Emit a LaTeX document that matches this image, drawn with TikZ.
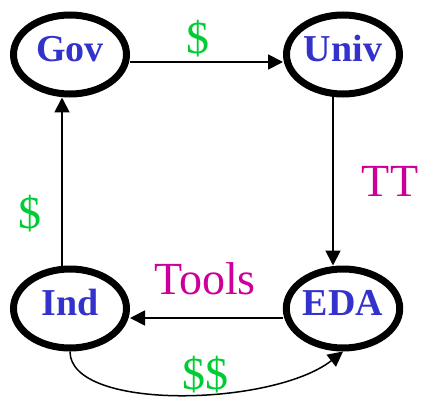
\documentclass[tikz,border=0pt]{standalone}
\usepackage{fontspec}
\setmainfont{Liberation Serif}
\usetikzlibrary{shapes.geometric,arrows.meta}
\definecolor{partyblue}{HTML}{3333CC}
\definecolor{moneygreen}{HTML}{00CC33}
\definecolor{flowpink}{HTML}{CC0099}

\begin{document}
\begin{tikzpicture}[x=1pt,y=-1pt,
        party/.style={ellipse,draw,line width=7pt,minimum width=113pt,minimum height=79pt,inner sep=0pt,
            text=partyblue,font=\fontsize{38}{40}\selectfont\bfseries,text height=26pt,text depth=12pt},
        flow/.style={-{Triangle[length=15pt,width=15pt]},line width=1.8pt},
        money/.style={text=moneygreen,font=\fontsize{46}{50}\selectfont,inner sep=0pt},
        goods/.style={text=flowpink,font=\fontsize{46}{50}\selectfont,inner sep=0pt}]
                    \useasboundingbox (0,0) rectangle (422,398);

                    \node[party] (gov) at (70,54.5) {Gov};
                    \node[party] (univ) at (343,54.5) {Univ};
                    \node[party] (ind) at (70,308.5) {Ind};
                    \node[party] (eda) at (343,308.5) {EDA};

                    \draw[flow] ([yshift=-7.5pt]gov.east) -- ([yshift=-7.5pt]univ.west);
                    \node[money] (govpay) at (198,38.5) {\$};

                    \draw[flow] ([xshift=-10pt]univ.south) -- ([xshift=-10pt]eda.north);
                    \node[goods] (transfer) at (390,181.5) {TT};

                    \draw[flow] ([yshift=-9.5pt]eda.west) -- ([yshift=-9.5pt]ind.east);
                    \node[goods] (tools) at (205,279) {Tools};

                    \draw[flow] ([xshift=-8pt]ind.north) -- ([xshift=-8pt]gov.south);
                    \node[money] (indpay) at (30,214) {\$};

                    \draw[flow,line width=1.5pt] (ind.south) .. controls +(0,60) and +(-70,55) .. (eda.south);
                    \node[money] (edapay) at (205.5,374.5) {\$\$};
\end{tikzpicture}
\end{document}
